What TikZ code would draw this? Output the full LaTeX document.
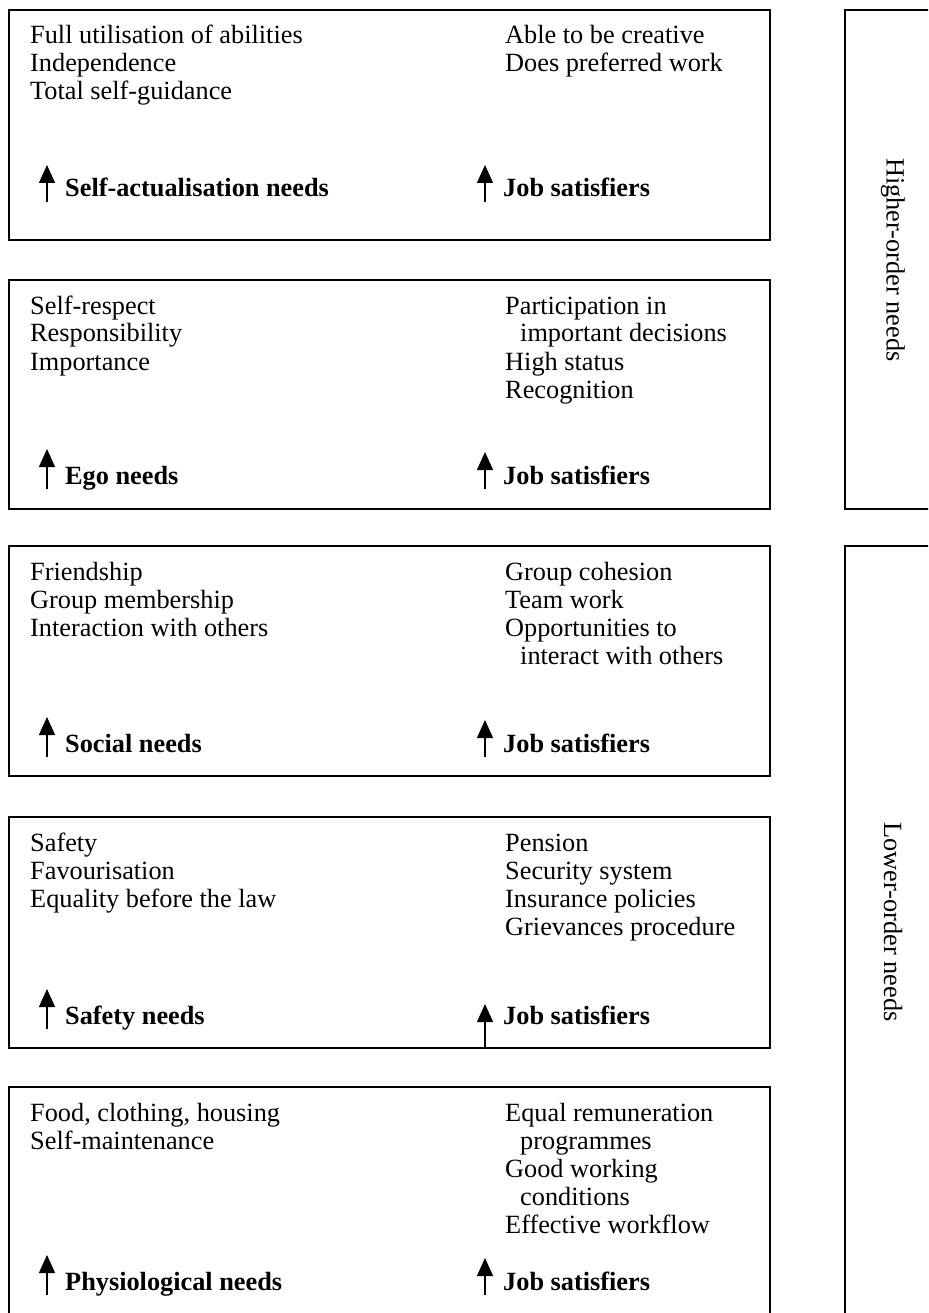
\documentclass[tikz,border=0pt]{standalone}
\usepackage{fontspec}
\setmainfont{Liberation Serif}
\usetikzlibrary{arrows.meta}
\newcommand{\needcol}[1]{\begin{tabular}[t]{@{}l@{}}#1\end{tabular}}
\newcommand{\ind}{\hspace*{15pt}}

\begin{document}
\begin{tikzpicture}[x=1pt,y=-1pt,
  needbox/.style={draw,line width=1.3pt},
  listtext/.style={anchor=base west,inner sep=0pt,font=\fontsize{26.3}{28}\selectfont},
  needlabel/.style={anchor=base west,inner sep=0pt,font=\fontsize{26.3}{28}\selectfont\bfseries},
  uparrow/.style={line width=1.3pt,-{Triangle[width=16pt,length=18pt]}},
  ordertext/.style={rotate=-90,inner sep=0pt,font=\fontsize{26.3}{28}\selectfont}]
\useasboundingbox (0,0) rectangle (928,1313);
\clip (0,0) rectangle (928,1313);
% self-actualisation
\draw[needbox] (9,10) rectangle (770,240);
\node[listtext] (sa1) at (30,44) {\needcol{Full utilisation of abilities\\Independence\\Total self-guidance}};
\node[listtext] (sa2) at (505,44) {\needcol{Able to be creative\\Does preferred work}};
\node[needlabel] (sal) at (65,197) {Self-actualisation needs};
\node[needlabel] (saj) at (503,197) {Job satisfiers};
\draw[uparrow] ([xshift=-18pt,yshift=-5pt]sal.base west) -- ++(0,-37);
\draw[uparrow] ([xshift=-18pt,yshift=-5pt]saj.base west) -- ++(0,-37);
% ego
\draw[needbox] (9,280) rectangle (770,509);
\node[listtext] (eg1) at (30,314) {\needcol{Self-respect\\Responsibility\\Importance}};
\node[listtext] (eg2) at (505,314) {\needcol{Participation in\\\ind important decisions\\High status\\Recognition}};
\node[needlabel] (egl) at (65,484) {Ego needs};
\node[needlabel] (egj) at (503,484) {Job satisfiers};
\draw[uparrow] ([xshift=-18pt,yshift=-5pt]egl.base west) -- ++(0,-40);
\draw[uparrow] ([xshift=-18pt,yshift=-5pt]egj.base west) -- ++(0,-37);
% social
\draw[needbox] (9,546) rectangle (770,776);
\node[listtext] (so1) at (30,580) {\needcol{Friendship\\Group membership\\Interaction with others}};
\node[listtext] (so2) at (505,580) {\needcol{Group cohesion\\Team work\\Opportunities to\\\ind interact with others}};
\node[needlabel] (sol) at (65,752) {Social needs};
\node[needlabel] (soj) at (503,752) {Job satisfiers};
\draw[uparrow] ([xshift=-18pt,yshift=-5pt]sol.base west) -- ++(0,-40);
\draw[uparrow] ([xshift=-18pt,yshift=-5pt]soj.base west) -- ++(0,-37);
% safety
\draw[needbox] (9,817) rectangle (770,1048);
\node[listtext] (sf1) at (30,851) {\needcol{Safety\\Favourisation\\Equality before the law}};
\node[listtext] (sf2) at (505,851) {\needcol{Pension\\Security system\\Insurance policies\\Grievances procedure}};
\node[needlabel] (sfl) at (65,1024) {Safety needs};
\node[needlabel] (sfj) at (503,1024) {Job satisfiers};
\draw[uparrow] ([xshift=-18pt,yshift=-5pt]sfl.base west) -- ++(0,-40);
\draw[uparrow] ([xshift=-18pt,yshift=-24pt]sfj.base west) -- ++(0,-44);
% physiological
\draw[needbox] (9,1087) rectangle (770,1335);
\node[listtext] (ph1) at (30,1121) {\needcol{Food, clothing, housing\\Self-maintenance}};
\node[listtext] (ph2) at (505,1121) {\needcol{Equal remuneration\\\ind programmes\\Good working\\\ind conditions\\Effective workflow}};
\node[needlabel] (phl) at (65,1290) {Physiological needs};
\node[needlabel] (phj) at (503,1290) {Job satisfiers};
\draw[uparrow] ([xshift=-18pt,yshift=-5pt]phl.base west) -- ++(0,-40);
\draw[uparrow] ([xshift=-18pt,yshift=-5pt]phj.base west) -- ++(0,-37);
% order of needs
\draw[needbox] (845,10) rectangle (960,509);
\node[ordertext] (high) at (893,260) {Higher-order needs};
\draw[needbox] (845,546) rectangle (960,1335);
\node[ordertext] (low) at (893,922) {Lower-order needs};
\end{tikzpicture}
\end{document}
